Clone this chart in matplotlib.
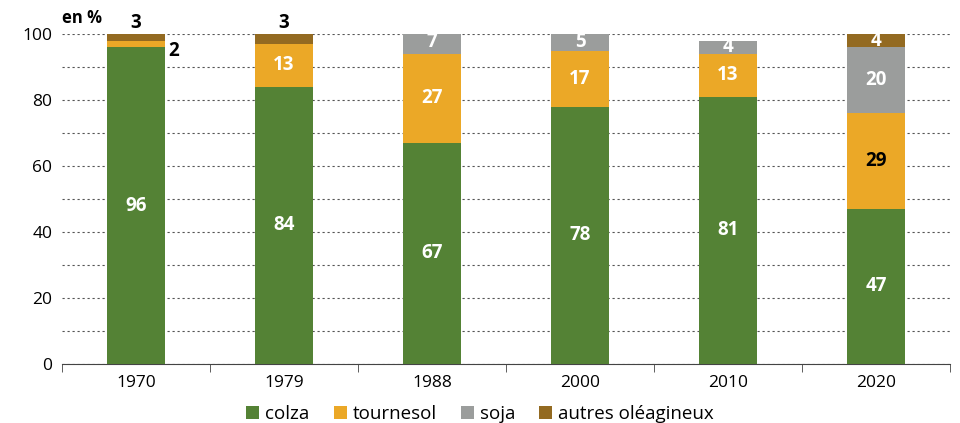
import matplotlib.pyplot as plt
import numpy as np

years = ["1970", "1979", "1988", "2000", "2010", "2020"]
colza = [96, 84, 67, 78, 81, 47]
tournesol = [2, 13, 27, 17, 13, 29]
soja = [0, 0, 7, 5, 4, 20]
autres = [3, 3, 0, 0, 0, 4]

series_names = ["colza", "tournesol", "soja", "autres oléagineux"]
colors = ["#548235", "#EBA827", "#9B9D9C", "#936A21"]

plt.rcParams["font.family"] = ["Open Sans", "DejaVu Sans"]

fig = plt.figure(figsize=(9.6, 4.23), dpi=100)
ax = fig.add_axes([0.0646, 0.1395, 0.925, 0.7801])

x = np.arange(len(years))
width = 0.39
bottom = np.zeros(len(years))
series = [colza, tournesol, soja, autres]
for vals, name, col in zip(series, series_names, colors):
    ax.bar(x, vals, width, bottom=bottom, color=col, label=name, zorder=3)
    for i, v in enumerate(vals):
        if v == 0:
            continue
        yc = bottom[i] + v / 2
        xc = x[i]
        txt_color = "white"
        va = "center"
        # small segments in 1970/1979 are labelled outside the bar
        if years[i] == "1970" and name == "tournesol":
            xc = x[i] + width / 2 + 0.06
            yc = bottom[i] - 1
            txt_color = "black"
        elif years[i] in ("1970", "1979") and name == "autres oléagineux":
            yc = 100.3
            va = "bottom"
            txt_color = "black"
        elif years[i] == "2020" and name == "tournesol":
            txt_color = "black"
        ax.text(xc, yc, str(v), ha="center", va=va, color=txt_color,
                fontsize=13.5, fontweight="bold", zorder=4, clip_on=False)
    bottom += np.array(vals)

ax.set_xlim(-0.5, len(years) - 0.5)
ax.set_ylim(0, 100)
ax.set_yticks(range(0, 101, 20))
ax.set_yticks(range(0, 101, 10), minor=True)
ax.tick_params(axis="y", which="both", length=0, labelsize=12.5, pad=7)
ax.grid(axis="y", which="both", linestyle=(0, (2, 2.5)), color="#555555",
        linewidth=0.8, zorder=0)

ax.set_xticks(x)
ax.set_xticklabels(years)
ax.set_xticks(np.arange(-0.5, len(years)), minor=True)
ax.tick_params(axis="x", which="major", length=0, labelsize=12.5, pad=8)
ax.tick_params(axis="x", which="minor", length=6, color="#444444")

for side in ["left", "right", "top"]:
    ax.spines[side].set_visible(False)
ax.spines["bottom"].set_color("#444444")

ax.text(0.0, 1.02, "en %", transform=ax.transAxes, ha="left", va="bottom",
        fontsize=12, fontweight="bold")

fig.legend(loc="lower center", bbox_to_anchor=(0.5, -0.04), ncol=4,
           frameon=False, fontsize=13.5, handlelength=0.7, handleheight=0.7,
           handletextpad=0.3, columnspacing=1.3)

fig.savefig("out.png", dpi=100)
